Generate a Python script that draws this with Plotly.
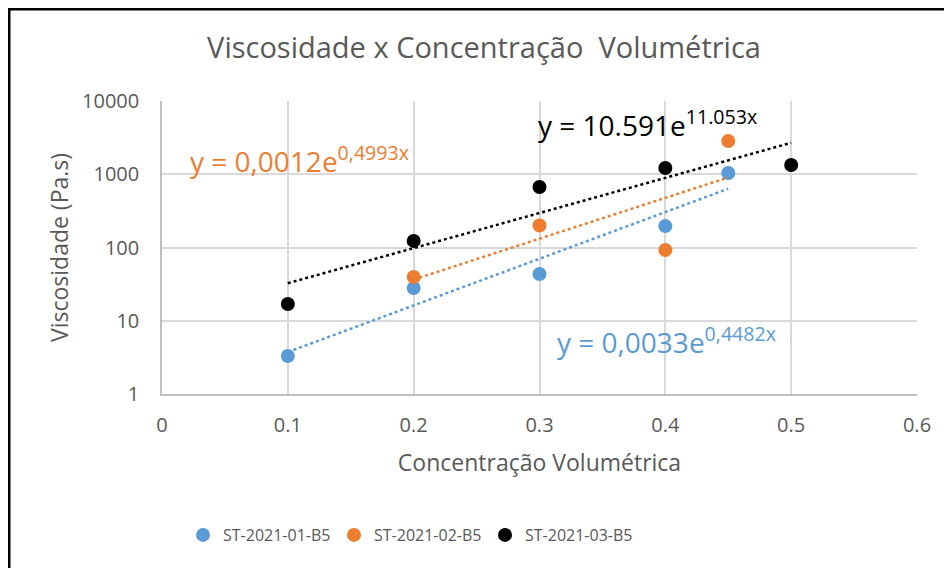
import numpy as np
import plotly.graph_objects as go

series_names = ["ST-2021-01-B5", "ST-2021-02-B5", "ST-2021-03-B5"]
series_colors = ["#5B9BD5", "#ED7D31", "#000000"]

x_01 = [0.1, 0.2, 0.3, 0.4, 0.45]
y_01 = [3.3, 28, 43.5, 196, 1040]

x_02 = [0.2, 0.3, 0.4, 0.45]
y_02 = [39.5, 200, 92.5, 2840]

x_03 = [0.1, 0.2, 0.3, 0.4, 0.5]
y_03 = [16.9, 123, 670, 1217, 1337]

eq_texts = ["y = 0,0033e<sup>0,4482x</sup>",
            "y = 0,0012e<sup>0,4993x</sup>",
            "y = 10.591e<sup>11.053x</sup>"]
eq_pos = [(0.312, 0.725), (0.0206, 3.20), (0.297, 3.69)]

y_tickvals = [1, 10, 100, 1000, 10000]
y_ticktext = ["1", "10", "100", "1000", "10000"]

FONT = "Open Sans"
GRAY = "#595959"

fig = go.Figure()
data = [(x_01, y_01), (x_02, y_02), (x_03, y_03)]

for (xs, ys), name, col in zip(data, series_names, series_colors):
    fig.add_trace(go.Scatter(x=xs, y=ys, mode="markers", name=name,
                             marker=dict(color=col, size=14)))

# exponential trendlines (least squares on log values)
for (xs, ys), col in zip(data, series_colors):
    xa = np.array(xs)
    k, c = np.polyfit(xa, np.log(np.array(ys)), 1)
    xt = np.linspace(xa.min(), xa.max(), 50)
    fig.add_trace(go.Scatter(x=xt, y=np.exp(c + k * xt), mode="lines",
                             showlegend=False, hoverinfo="skip",
                             line=dict(color=col, width=2.5, dash="dot")))

for txt, (ax, ay), col in zip(eq_texts, eq_pos, series_colors):
    fig.add_annotation(x=ax, y=ay, xref="x", yref="y", text=txt,
                       showarrow=False, xanchor="left", yanchor="middle",
                       font=dict(family=FONT, size=28, color=col))

# frame lines (left and top) of the original screenshot
PL, PT, PW, PH = 154, 93, 755, 293
fig.add_shape(type="line", xref="paper", yref="paper",
              x0=(1 - PL) / PW, x1=(1 - PL) / PW, y0=(PT + PH - 0) / PH, y1=-0.7,
              line=dict(color="black", width=3))
fig.add_shape(type="line", xref="paper", yref="paper",
              x0=(0 - PL) / PW, x1=1.1, y0=(PT + PH - 1) / PH, y1=(PT + PH - 1) / PH,
              line=dict(color="black", width=3))

fig.update_layout(
    width=952, height=568,
    margin=dict(l=PL, r=952 - PL - PW, t=PT, b=568 - PT - PH),
    paper_bgcolor="white", plot_bgcolor="white",
    font=dict(family=FONT, color=GRAY, size=16),
    title=dict(text="Viscosidade x Concentração  Volumétrica",
               x=476 / 952, xanchor="center", y=1 - 40 / 568, yanchor="middle",
               xref="container", yref="container",
               font=dict(family=FONT, size=29, color=GRAY)),
    legend=dict(orientation="h", x=(175 - PL) / PW, xanchor="left",
                y=(PT + PH - 527) / PH, yanchor="middle",
                font=dict(size=16, color=GRAY),
                entrywidthmode="pixels", entrywidth=106),
    showlegend=True,
)
fig.update_xaxes(range=[0, 0.6], dtick=0.1, showgrid=True, gridcolor="#D9D9D9",
                 gridwidth=1.5, showline=True, linecolor="#BFBFBF", linewidth=1.5,
                 zeroline=False, ticks="outside", ticklen=12,
                 tickcolor="rgba(0,0,0,0)", tickfont=dict(size=20, color=GRAY),
                 title=dict(text="Concentração Volumétrica", standoff=18,
                            font=dict(size=23, color=GRAY)))
fig.update_yaxes(type="log", range=[0, 4], tickvals=y_tickvals, ticktext=y_ticktext,
                 showgrid=True, gridcolor="#D9D9D9", gridwidth=1.5,
                 showline=True, linecolor="#BFBFBF", linewidth=1.5, zeroline=False,
                 ticks="outside", ticklen=17, tickcolor="rgba(0,0,0,0)",
                 tickfont=dict(size=20, color=GRAY),
                 title=dict(text="Viscosidade (Pa.s)", standoff=7,
                            font=dict(size=23, color=GRAY)))

fig.write_html("out.html")
